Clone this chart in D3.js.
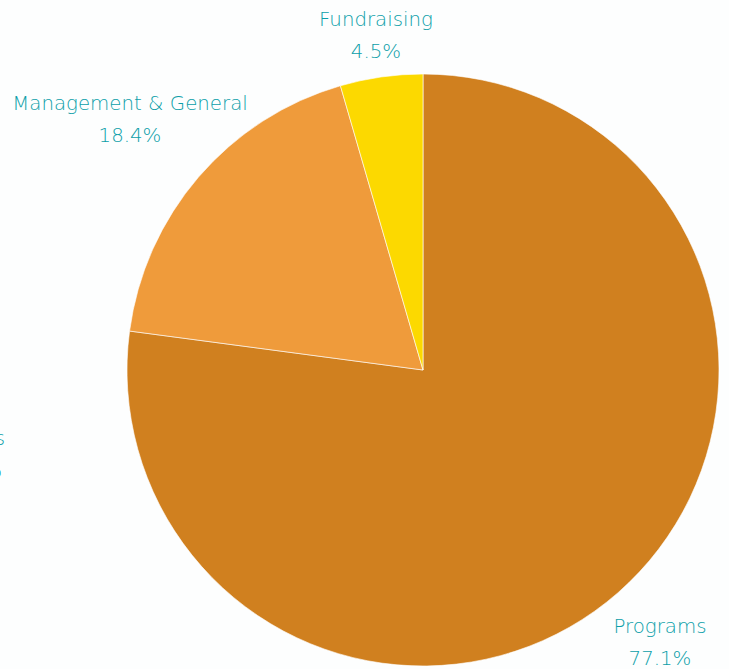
<!DOCTYPE html>
<html><head><meta charset="utf-8">
<script src="https://cdn.jsdelivr.net/npm/d3@7"></script>
<style>
html,body{margin:0;padding:0;background:#fdfefe;}
svg{display:block;}
text{font-family:"DejaVu Sans ExtraLight","DejaVu Sans",sans-serif;font-weight:200;fill:#0c9ea9;}
</style></head><body>
<svg id="chart" width="729" height="669"></svg>
<script>
const categories = ["Programs", "Management & General", "Fundraising"];
const values = [77.1, 18.4, 4.5];
const valueLabels = ["77.1%", "18.4%", "4.5%"];
const colors = ["#d0801f", "#ef9b3b", "#fcd900"];

const W = 729, H = 669;
const cx = 423, cy = 370, R = 296;
const labelPos = { // label centers (layout only)
  "Programs": [660, 633],
  "Management & General": [130, 110],
  "Fundraising": [376, 26]
};

const svg = d3.select("#chart");
const g = svg.append("g").attr("transform", `translate(${cx},${cy})`);
const data = categories.map((c, i) => ({cat: c, value: values[i], label: valueLabels[i], color: colors[i]}));
const pie = d3.pie().value(d => d.value).sort(null);
const arc = d3.arc().innerRadius(0).outerRadius(R);
g.selectAll("path").data(pie(data)).join("path")
  .attr("d", arc).attr("fill", d => d.data.color)
  .attr("stroke", "#ffffff").attr("stroke-width", 0.6);

const lg = svg.append("g");
data.forEach(d => {
  const [x, y] = labelPos[d.cat];
  const t = lg.append("text").attr("x", x).attr("y", y).attr("text-anchor", "middle").attr("font-size", 19.8);
  t.append("tspan").attr("x", x).attr("dy", 0).text(d.cat);
  t.append("tspan").attr("x", x).attr("dy", 32).text(d.label);
});
// partially hidden label at left edge
const t2 = lg.append("text").attr("x", 5).attr("y", 445).attr("text-anchor", "end").attr("font-size", 19.8);
t2.append("tspan").attr("x", 5).attr("dy", 0).text("Other Costs");
t2.append("tspan").attr("x", 2).attr("dy", 32).text("0.0%");
</script>
</body></html>
